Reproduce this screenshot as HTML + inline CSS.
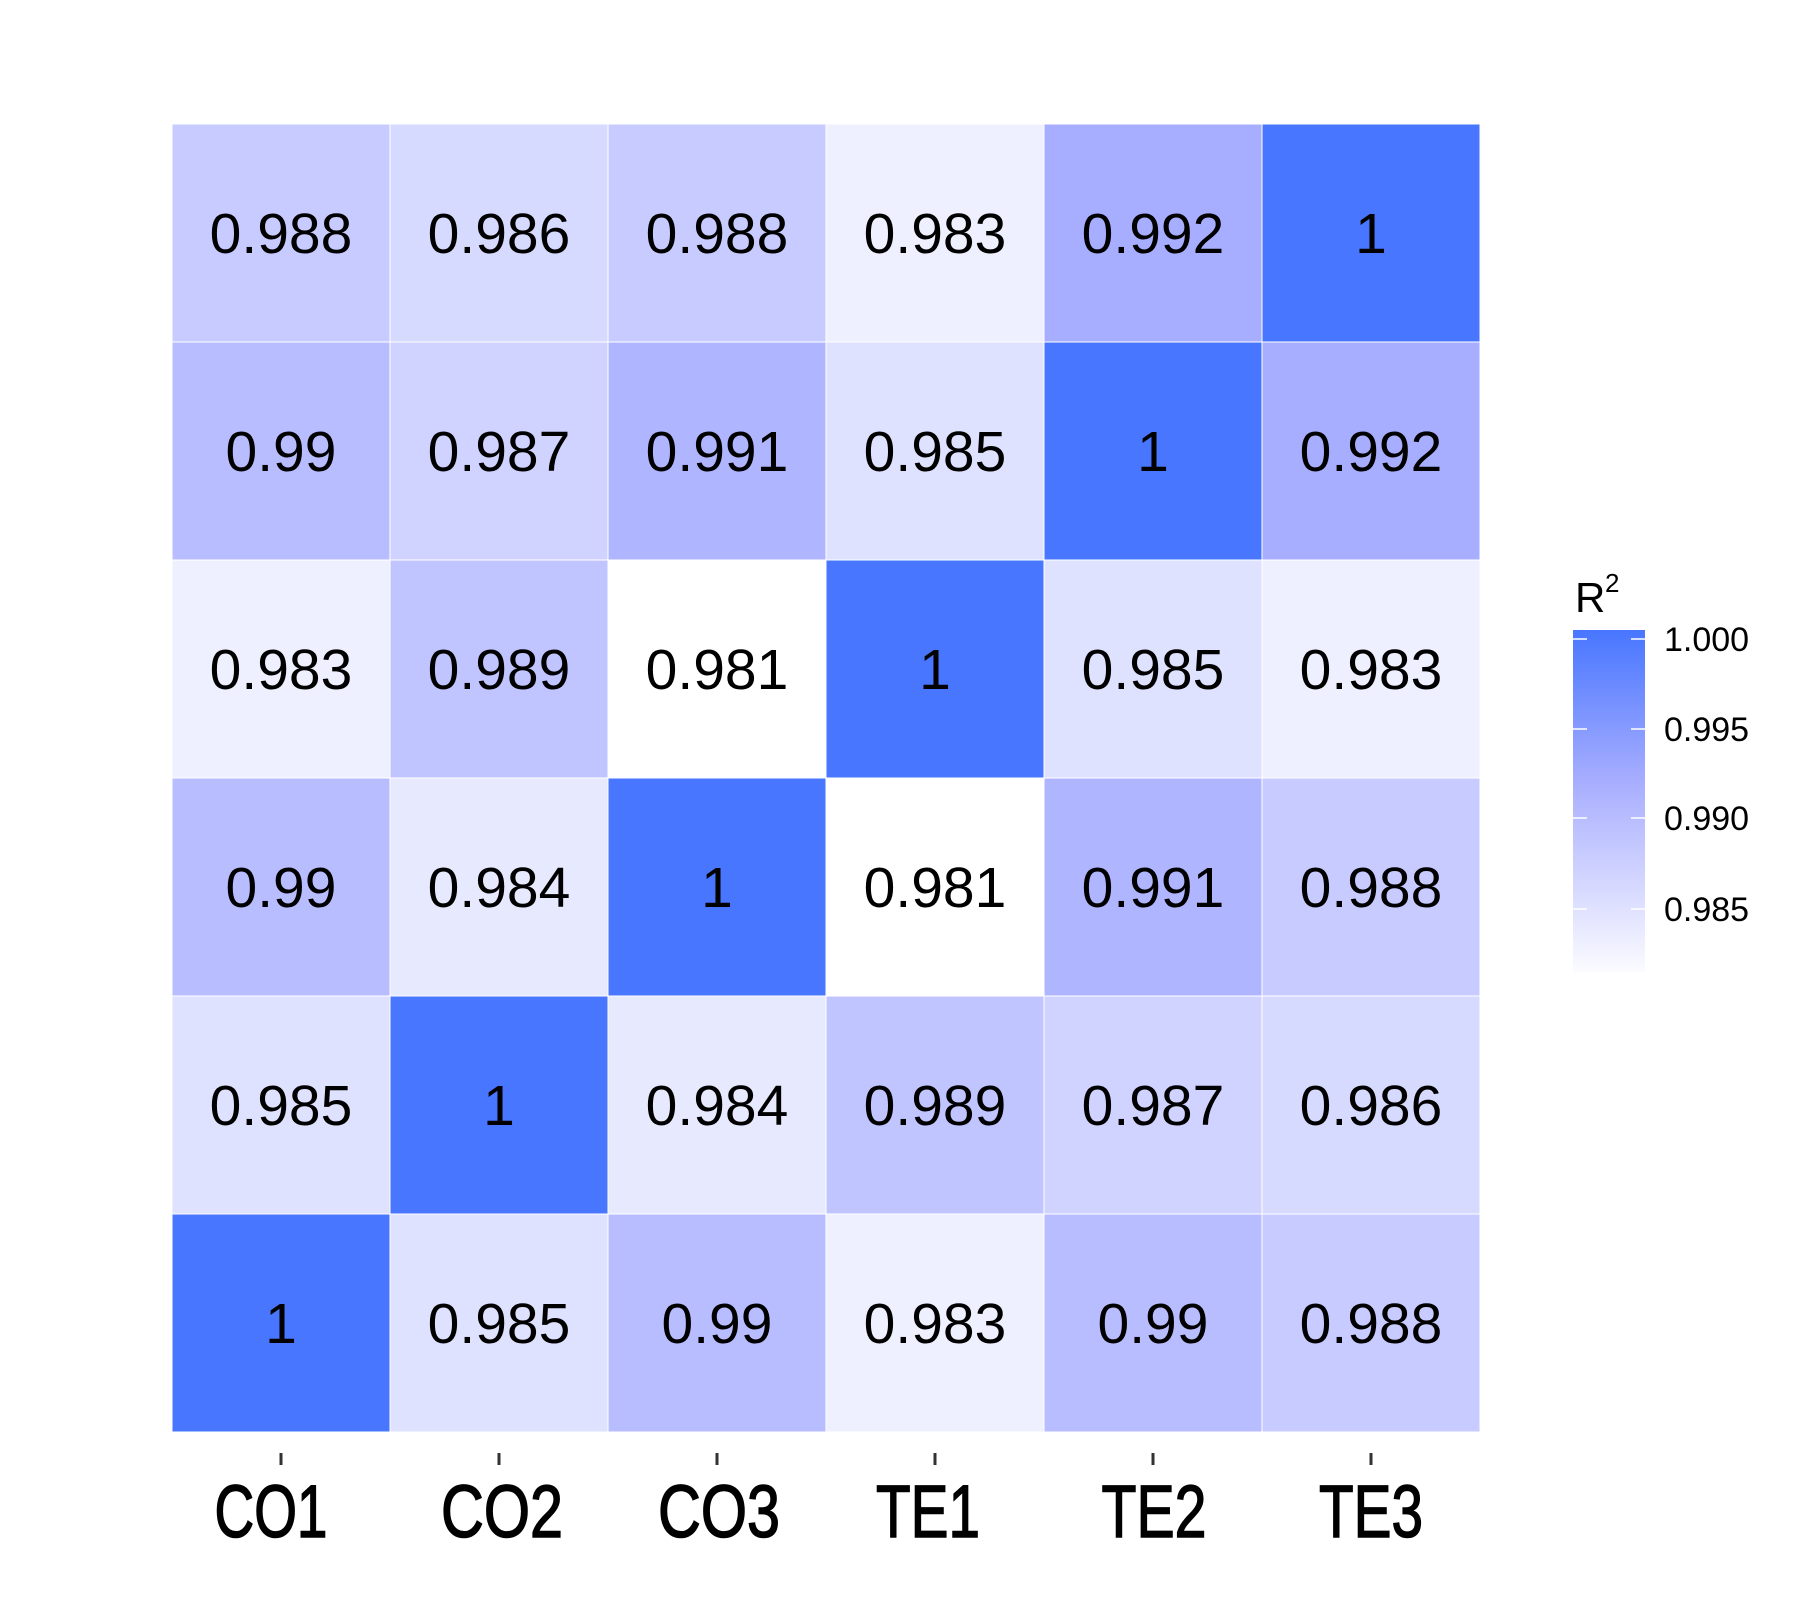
<!DOCTYPE html>
<html><head><meta charset="utf-8"><style>
html,body{margin:0;padding:0;background:#fff;}
svg{display:block;}
.v{font-family:"Liberation Sans",sans-serif;font-size:57px;fill:#000;text-anchor:middle;dominant-baseline:central;}
.x{font-family:"Liberation Sans",sans-serif;font-size:74px;fill:#000;stroke:#000;stroke-width:1.5px;text-anchor:middle;}
.l{font-family:"Liberation Sans",sans-serif;font-size:34px;fill:#000;dominant-baseline:central;}
</style></head><body>
<svg width="1806" height="1608" viewBox="0 0 1806 1608" xmlns="http://www.w3.org/2000/svg">
<defs>
<linearGradient id="g" x1="0" y1="0" x2="0" y2="1">
<stop offset="0" stop-color="rgb(72,118,255)"/>
<stop offset="0.447" stop-color="rgb(168,174,255)"/>
<stop offset="1" stop-color="rgb(251,251,255)"/>
</linearGradient>
</defs>
<g stroke="#fff" stroke-width="1">
<rect x="172" y="124" width="218" height="218" fill="rgb(200,203,255)"/>
<rect x="390" y="124" width="218" height="218" fill="rgb(215,218,255)"/>
<rect x="608" y="124" width="218" height="218" fill="rgb(200,203,255)"/>
<rect x="826" y="124" width="218" height="218" fill="rgb(239,240,255)"/>
<rect x="1044" y="124" width="218" height="218" fill="rgb(168,174,255)"/>
<rect x="1262" y="124" width="218" height="218" fill="rgb(72,118,255)"/>
<rect x="172" y="342" width="218" height="218" fill="rgb(184,189,255)"/>
<rect x="390" y="342" width="218" height="218" fill="rgb(208,211,255)"/>
<rect x="608" y="342" width="218" height="218" fill="rgb(176,181,255)"/>
<rect x="826" y="342" width="218" height="218" fill="rgb(223,226,255)"/>
<rect x="1044" y="342" width="218" height="218" fill="rgb(72,118,255)"/>
<rect x="1262" y="342" width="218" height="218" fill="rgb(168,174,255)"/>
<rect x="172" y="560" width="218" height="218" fill="rgb(239,240,255)"/>
<rect x="390" y="560" width="218" height="218" fill="rgb(192,196,255)"/>
<rect x="608" y="560" width="218" height="218" fill="rgb(255,255,255)"/>
<rect x="826" y="560" width="218" height="218" fill="rgb(72,118,255)"/>
<rect x="1044" y="560" width="218" height="218" fill="rgb(223,226,255)"/>
<rect x="1262" y="560" width="218" height="218" fill="rgb(239,240,255)"/>
<rect x="172" y="778" width="218" height="218" fill="rgb(184,189,255)"/>
<rect x="390" y="778" width="218" height="218" fill="rgb(231,233,255)"/>
<rect x="608" y="778" width="218" height="218" fill="rgb(72,118,255)"/>
<rect x="826" y="778" width="218" height="218" fill="rgb(255,255,255)"/>
<rect x="1044" y="778" width="218" height="218" fill="rgb(176,181,255)"/>
<rect x="1262" y="778" width="218" height="218" fill="rgb(200,203,255)"/>
<rect x="172" y="996" width="218" height="218" fill="rgb(223,226,255)"/>
<rect x="390" y="996" width="218" height="218" fill="rgb(72,118,255)"/>
<rect x="608" y="996" width="218" height="218" fill="rgb(231,233,255)"/>
<rect x="826" y="996" width="218" height="218" fill="rgb(192,196,255)"/>
<rect x="1044" y="996" width="218" height="218" fill="rgb(208,211,255)"/>
<rect x="1262" y="996" width="218" height="218" fill="rgb(215,218,255)"/>
<rect x="172" y="1214" width="218" height="218" fill="rgb(72,118,255)"/>
<rect x="390" y="1214" width="218" height="218" fill="rgb(223,226,255)"/>
<rect x="608" y="1214" width="218" height="218" fill="rgb(184,189,255)"/>
<rect x="826" y="1214" width="218" height="218" fill="rgb(239,240,255)"/>
<rect x="1044" y="1214" width="218" height="218" fill="rgb(184,189,255)"/>
<rect x="1262" y="1214" width="218" height="218" fill="rgb(200,203,255)"/>
</g>
<g>
<text class="v" x="281" y="234">0.988</text><text class="v" x="499" y="234">0.986</text><text class="v" x="717" y="234">0.988</text><text class="v" x="935" y="234">0.983</text><text class="v" x="1153" y="234">0.992</text><text class="v" x="1371" y="234">1</text>
<text class="v" x="281" y="452">0.99</text><text class="v" x="499" y="452">0.987</text><text class="v" x="717" y="452">0.991</text><text class="v" x="935" y="452">0.985</text><text class="v" x="1153" y="452">1</text><text class="v" x="1371" y="452">0.992</text>
<text class="v" x="281" y="670">0.983</text><text class="v" x="499" y="670">0.989</text><text class="v" x="717" y="670">0.981</text><text class="v" x="935" y="670">1</text><text class="v" x="1153" y="670">0.985</text><text class="v" x="1371" y="670">0.983</text>
<text class="v" x="281" y="888">0.99</text><text class="v" x="499" y="888">0.984</text><text class="v" x="717" y="888">1</text><text class="v" x="935" y="888">0.981</text><text class="v" x="1153" y="888">0.991</text><text class="v" x="1371" y="888">0.988</text>
<text class="v" x="281" y="1106">0.985</text><text class="v" x="499" y="1106">1</text><text class="v" x="717" y="1106">0.984</text><text class="v" x="935" y="1106">0.989</text><text class="v" x="1153" y="1106">0.987</text><text class="v" x="1371" y="1106">0.986</text>
<text class="v" x="281" y="1324">1</text><text class="v" x="499" y="1324">0.985</text><text class="v" x="717" y="1324">0.99</text><text class="v" x="935" y="1324">0.983</text><text class="v" x="1153" y="1324">0.99</text><text class="v" x="1371" y="1324">0.988</text>
</g>
<g stroke="#333" stroke-width="3">
<line x1="281" y1="1453" x2="281" y2="1465"/><line x1="499" y1="1453" x2="499" y2="1465"/><line x1="717" y1="1453" x2="717" y2="1465"/><line x1="935" y1="1453" x2="935" y2="1465"/><line x1="1153" y1="1453" x2="1153" y2="1465"/><line x1="1371" y1="1453" x2="1371" y2="1465"/>
</g>
<text class="x" x="271" y="1537" textLength="113" lengthAdjust="spacingAndGlyphs">CO1</text>
<text class="x" x="502" y="1537" textLength="122" lengthAdjust="spacingAndGlyphs">CO2</text>
<text class="x" x="719" y="1537" textLength="122" lengthAdjust="spacingAndGlyphs">CO3</text>
<text class="x" x="928" y="1537" textLength="104" lengthAdjust="spacingAndGlyphs">TE1</text>
<text class="x" x="1154" y="1537" textLength="105" lengthAdjust="spacingAndGlyphs">TE2</text>
<text class="x" x="1371" y="1537" textLength="104" lengthAdjust="spacingAndGlyphs">TE3</text>
<text x="1575" y="612" font-family="Liberation Sans, sans-serif" font-size="42">R</text>
<text x="1605" y="592" font-family="Liberation Sans, sans-serif" font-size="26">2</text>
<rect x="1573" y="630" width="72" height="342" fill="url(#g)"/>
<g stroke="#fff" stroke-width="1.5">
<line x1="1573" y1="639" x2="1587" y2="639"/><line x1="1631" y1="639" x2="1645" y2="639"/>
<line x1="1573" y1="729" x2="1587" y2="729"/><line x1="1631" y1="729" x2="1645" y2="729"/>
<line x1="1573" y1="818" x2="1587" y2="818"/><line x1="1631" y1="818" x2="1645" y2="818"/>
<line x1="1573" y1="909" x2="1587" y2="909"/><line x1="1631" y1="909" x2="1645" y2="909"/>
</g>
<text class="l" x="1664" y="640">1.000</text>
<text class="l" x="1664" y="730">0.995</text>
<text class="l" x="1664" y="819">0.990</text>
<text class="l" x="1664" y="910">0.985</text>
</svg>
</body></html>
